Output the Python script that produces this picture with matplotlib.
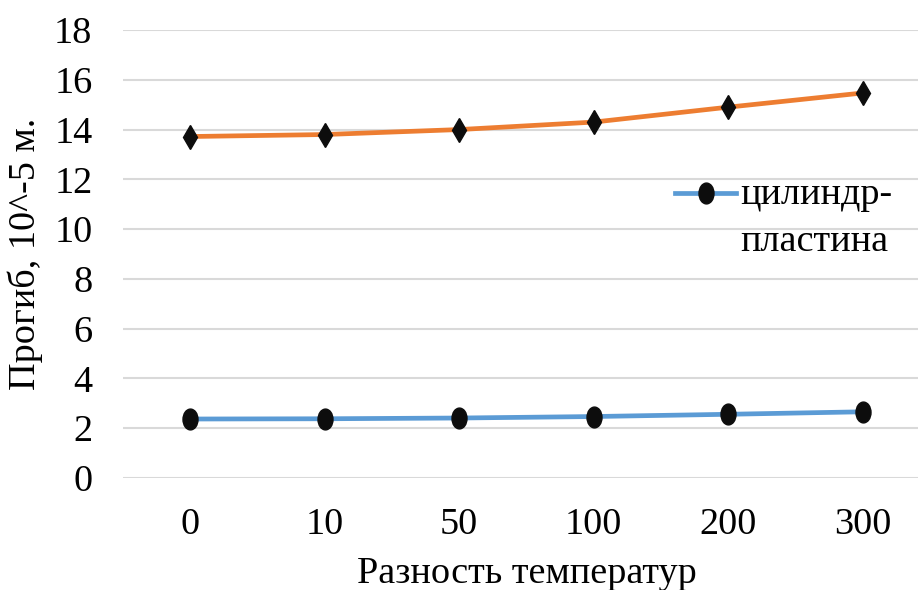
import matplotlib.pyplot as plt
from matplotlib.path import Path
from matplotlib.transforms import Affine2D

plt.rcParams['font.family'] = ['Liberation Serif', 'DejaVu Serif']

categories = ['0', '10', '50', '100', '200', '300']
cyl_plate = [2.37, 2.38, 2.41, 2.47, 2.56, 2.66]
second = [13.72, 13.80, 14.00, 14.30, 14.90, 15.47]

# slightly tall ellipse, like the stretched circles of the original
oval = Path.unit_circle().transformed(Affine2D().scale(0.72, 1.0))

fig = plt.figure(figsize=(9.18, 5.9), dpi=100)
ax = fig.add_axes([123 / 918, 1 - 478 / 590, 807 / 918, 448 / 590])

x = range(len(categories))
ax.plot(x, cyl_plate, color='#5b9bd5', lw=3.4, marker=oval, ms=15,
        mfc='#0d0d0d', mec='#0d0d0d', label='цилиндр-\nпластина', zorder=3)
ax.plot(x, second, color='#ed7d31', lw=3.4, marker='d', ms=12.5,
        mfc='#0d0d0d', mec='#0d0d0d', zorder=3)

ax.set_xlim(-0.5, 5.5)
ax.set_ylim(0, 18)
ax.set_yticks(range(0, 19, 2))
ax.set_xticks(list(x))
ax.set_xticklabels(categories)
ax.tick_params(axis='both', length=0, labelsize=27.5)
ax.tick_params(axis='y', pad=22)
ax.tick_params(axis='x', pad=21)
ax.grid(axis='y', color='#d9d9d9', lw=1.5)
ax.set_axisbelow(True)
for s in ax.spines.values():
    s.set_visible(False)

ax.set_xlabel('Разность температур', fontsize=27.5, labelpad=11)
ax.set_ylabel('Прогиб, 10^-5 м.', fontsize=27.5, labelpad=8)

# tall handle box lifts the legend line up to the first text row
leg = ax.legend(loc='center left', bbox_to_anchor=(656 / 918, 1 - 222 / 590),
                bbox_transform=fig.transFigure, frameon=False, fontsize=27.5,
                handlelength=1.6, handletextpad=0.1, borderpad=0,
                handleheight=5.0)
leg.get_texts()[0].set_linespacing(1.46)

fig.savefig('out.png', dpi=100)
